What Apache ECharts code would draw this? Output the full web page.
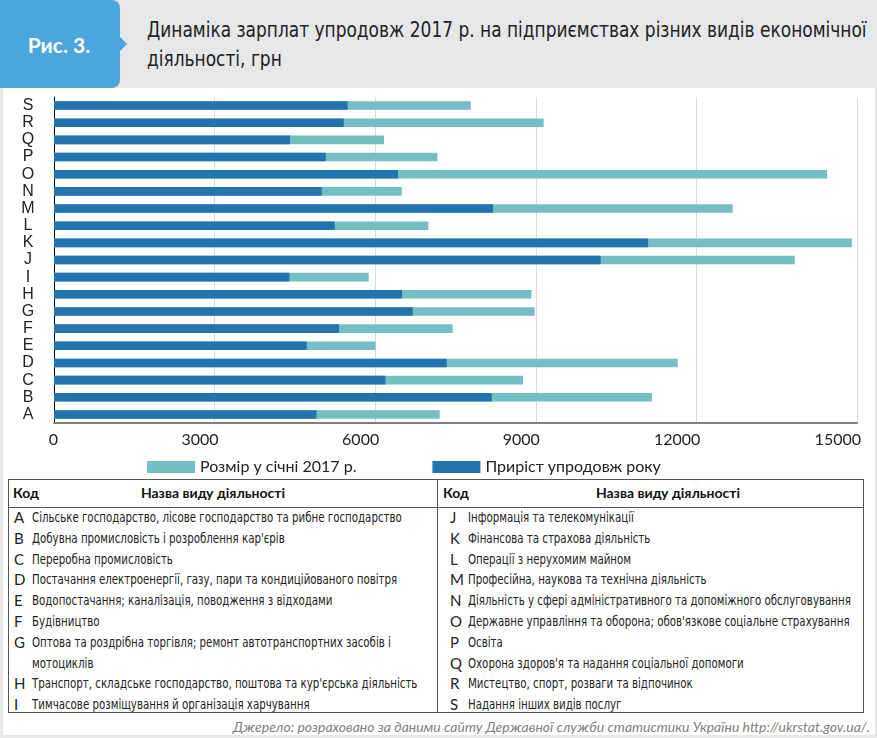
<!DOCTYPE html>
<html>
<head>
<meta charset="utf-8">
<script src="https://cdn.jsdelivr.net/npm/echarts@6/dist/echarts.min.js"></script>
<style>
  html, body { margin:0; padding:0; width:877px; height:738px; overflow:hidden; background:#e6e7e9; }
  #panel { position:absolute; left:3px; top:88px; width:872px; height:647px; background:#fff; }
  #tab { position:absolute; left:0; top:0; width:120px; height:88px; background:#4aa6dc; border-radius:0 8px 8px 0; }
  #tab:after { content:""; position:absolute; left:120px; top:37px; border-top:7px solid transparent; border-bottom:7px solid transparent; border-left:7px solid #4aa6dc; }
  #tabtxt { position:absolute; left:0; top:30px; width:118px; text-align:center; color:#fff; font:bold 21px Lato, "Open Sans", sans-serif; line-height:30px; }
  .tl { position:absolute; left:147px; color:#222; font:21px "DejaVu Sans Condensed", sans-serif; line-height:29px; white-space:nowrap; transform:scaleX(0.90); transform-origin:0 50%; }
  #chart { position:absolute; left:0; top:88px; width:877px; height:390px; }
  #tbl { position:absolute; left:8px; top:479px; width:856px; height:234px; border:1.5px solid #555; box-sizing:border-box; }
  #vdiv { position:absolute; left:437px; top:479px; width:0; height:234px; border-left:1.5px solid #555; }
  #hdiv { position:absolute; left:8px; top:507px; width:856px; height:0; border-top:1px solid #555; }
  .hd { position:absolute; font:bold 14px Lato, "Open Sans", sans-serif; color:#111; line-height:20px; }
  .cd { position:absolute; font:15px Lato, "Open Sans", sans-serif; color:#222; line-height:20px; }
  .nm { position:absolute; font:14px "DejaVu Sans Condensed", sans-serif; color:#222; line-height:20px; white-space:nowrap; transform:scaleX(0.813); transform-origin:0 50%; }
  #src { position:absolute; right:7px; top:717px; font:italic 14px Lato, "Open Sans", sans-serif; color:#808080; line-height:20px; white-space:nowrap; }
</style>
</head>
<body>
<div id="panel"></div>
<div id="tab"></div>
<div id="tabtxt">Рис. 3.</div>
<div class="tl" style="top:16px">Динаміка зарплат упродовж 2017 р. на підприємствах різних видів економічної</div>
<div class="tl" style="top:45px">діяльності, грн</div>
<div id="chart"></div>
<div id="tbl"></div>
<div id="vdiv"></div>
<div id="hdiv"></div>
<div id="tablebody"></div>
<div id="src">Джерело: розраховано за даними сайту Державної служби статистики України http://ukrstat.gov.ua/.</div>
<script>
// ---- data ----
const categories = ['A','B','C','D','E','F','G','H','I','J','K','L','M','N','O','P','Q','R','S'];
// dark segment (drawn from 0)
const darkValues = [4902, 8177, 6191, 7336, 4721, 5324, 6701, 6501, 4397, 10213, 11097, 5244, 8201, 5001, 6427, 5076, 4409, 5412, 5487];
// end of the light segment (full bar length)
const lightValues = [7205, 11171, 8762, 11651, 6004, 7448, 8980, 8918, 5879, 13837, 14902, 6994, 12679, 6496, 14441, 7162, 6165, 9148, 7785];
const seriesNames = ['Розмір у січні 2017 р.', 'Приріст упродовж року'];
const xTicks = [0, 3000, 6000, 9000, 12000, 15000];

const leftCodes = ['A','B','C','D','E','F','G','','H','I'];
const leftNames = [
  'Сільське господарство, лісове господарство та рибне господарство',
  'Добувна промисловість і розроблення кар\'єрів',
  'Переробна промисловість',
  'Постачання електроенергії, газу, пари та кондиційованого повітря',
  'Водопостачання; каналізація, поводження з відходами',
  'Будівництво',
  'Оптова та роздрібна торгівля; ремонт автотранспортних засобів і',
  'мотоциклів',
  'Транспорт, складське господарство, поштова та кур\'єрська діяльність',
  'Тимчасове розміщування й організація харчування'
];
const rightCodes = ['J','K','L','M','N','O','P','Q','R','S'];
const rightNames = [
  'Інформація та телекомунікації',
  'Фінансова та страхова діяльність',
  'Операції з нерухомим майном',
  'Професійна, наукова та технічна діяльність',
  'Діяльність у сфері адміністративного та допоміжного обслуговування',
  'Державне управління та оборона; обов\'язкове соціальне страхування',
  'Освіта',
  'Охорона здоров\'я та надання соціальної допомоги',
  'Мистецтво, спорт, розваги та відпочинок',
  'Надання інших видів послуг'
];

// ---- table ----
(function(){
  const tb = document.getElementById('tablebody');
  let html = '';
  html += '<div class="hd" style="left:13px;top:483px">Код</div>';
  html += '<div class="hd" style="left:138px;top:483px;width:150px;text-align:center">Назва виду діяльності</div>';
  html += '<div class="hd" style="left:443px;top:483px">Код</div>';
  html += '<div class="hd" style="left:593px;top:483px;width:150px;text-align:center">Назва виду діяльності</div>';
  const y0 = 507, pitch = 20.8;
  leftCodes.forEach((c,i)=>{
    const y = (y0 + i*pitch).toFixed(1);
    html += '<div class="cd" style="left:14px;top:'+y+'px">'+c+'</div>';
    html += '<div class="nm" style="left:32px;top:'+y+'px">'+leftNames[i]+'</div>';
  });
  rightCodes.forEach((c,i)=>{
    const y = (y0 + i*pitch).toFixed(1);
    html += '<div class="cd" style="left:450px;top:'+y+'px">'+c+'</div>';
    html += '<div class="nm" style="left:468px;top:'+y+'px">'+rightNames[i]+'</div>';
  });
  tb.innerHTML = html;
})();

// ---- chart ----
const chart = echarts.init(document.getElementById('chart'), null, {renderer:'canvas'});
chart.setOption({
  animation: false,
  backgroundColor: 'transparent',
  grid: { left: 54, right: 20, top: 9, height: 326, containLabel: false },
  legend: {
    data: seriesNames,
    left: 142, top: 366,
    itemWidth: 48, itemHeight: 12, itemGap: 76,
    icon: 'rect',
    textStyle: { fontFamily: 'Lato, "Open Sans", sans-serif', fontSize: 16, color: '#222' }
  },
  xAxis: {
    type: 'value', min: xTicks[0], max: xTicks[xTicks.length-1], interval: 3000,
    axisLine: { show: true, lineStyle: { color: '#7f7f7f', width: 2 } },
    axisTick: { show: false },
    splitLine: { show: true, lineStyle: { color: '#d9d9d9', width: 1 } },
    axisLabel: { fontFamily: 'Lato, "Open Sans", sans-serif', fontSize: 16, color: '#222', margin: 9, align: 'right', padding: [0, -4, 0, 0],
      formatter: v => String(v) }
  },
  yAxis: {
    type: 'category', data: categories,
    axisLine: { show: true, lineStyle: { color: '#000', width: 1 } },
    axisTick: { show: false },
    axisLabel: { interval: 0, fontFamily: '"Liberation Sans", Arial, sans-serif', fontSize: 16, color: '#222', margin: 26, align: 'center' }
  },
  series: [
    { name: seriesNames[0], type: 'bar', data: lightValues, barWidth: '50%', barGap: '-100%',
      itemStyle: { color: '#74bec4' } },
    { name: seriesNames[1], type: 'bar', data: darkValues, barWidth: '50%', barGap: '-100%',
      itemStyle: { color: '#2274ae' } }
  ]
});
</script>
</body>
</html>
